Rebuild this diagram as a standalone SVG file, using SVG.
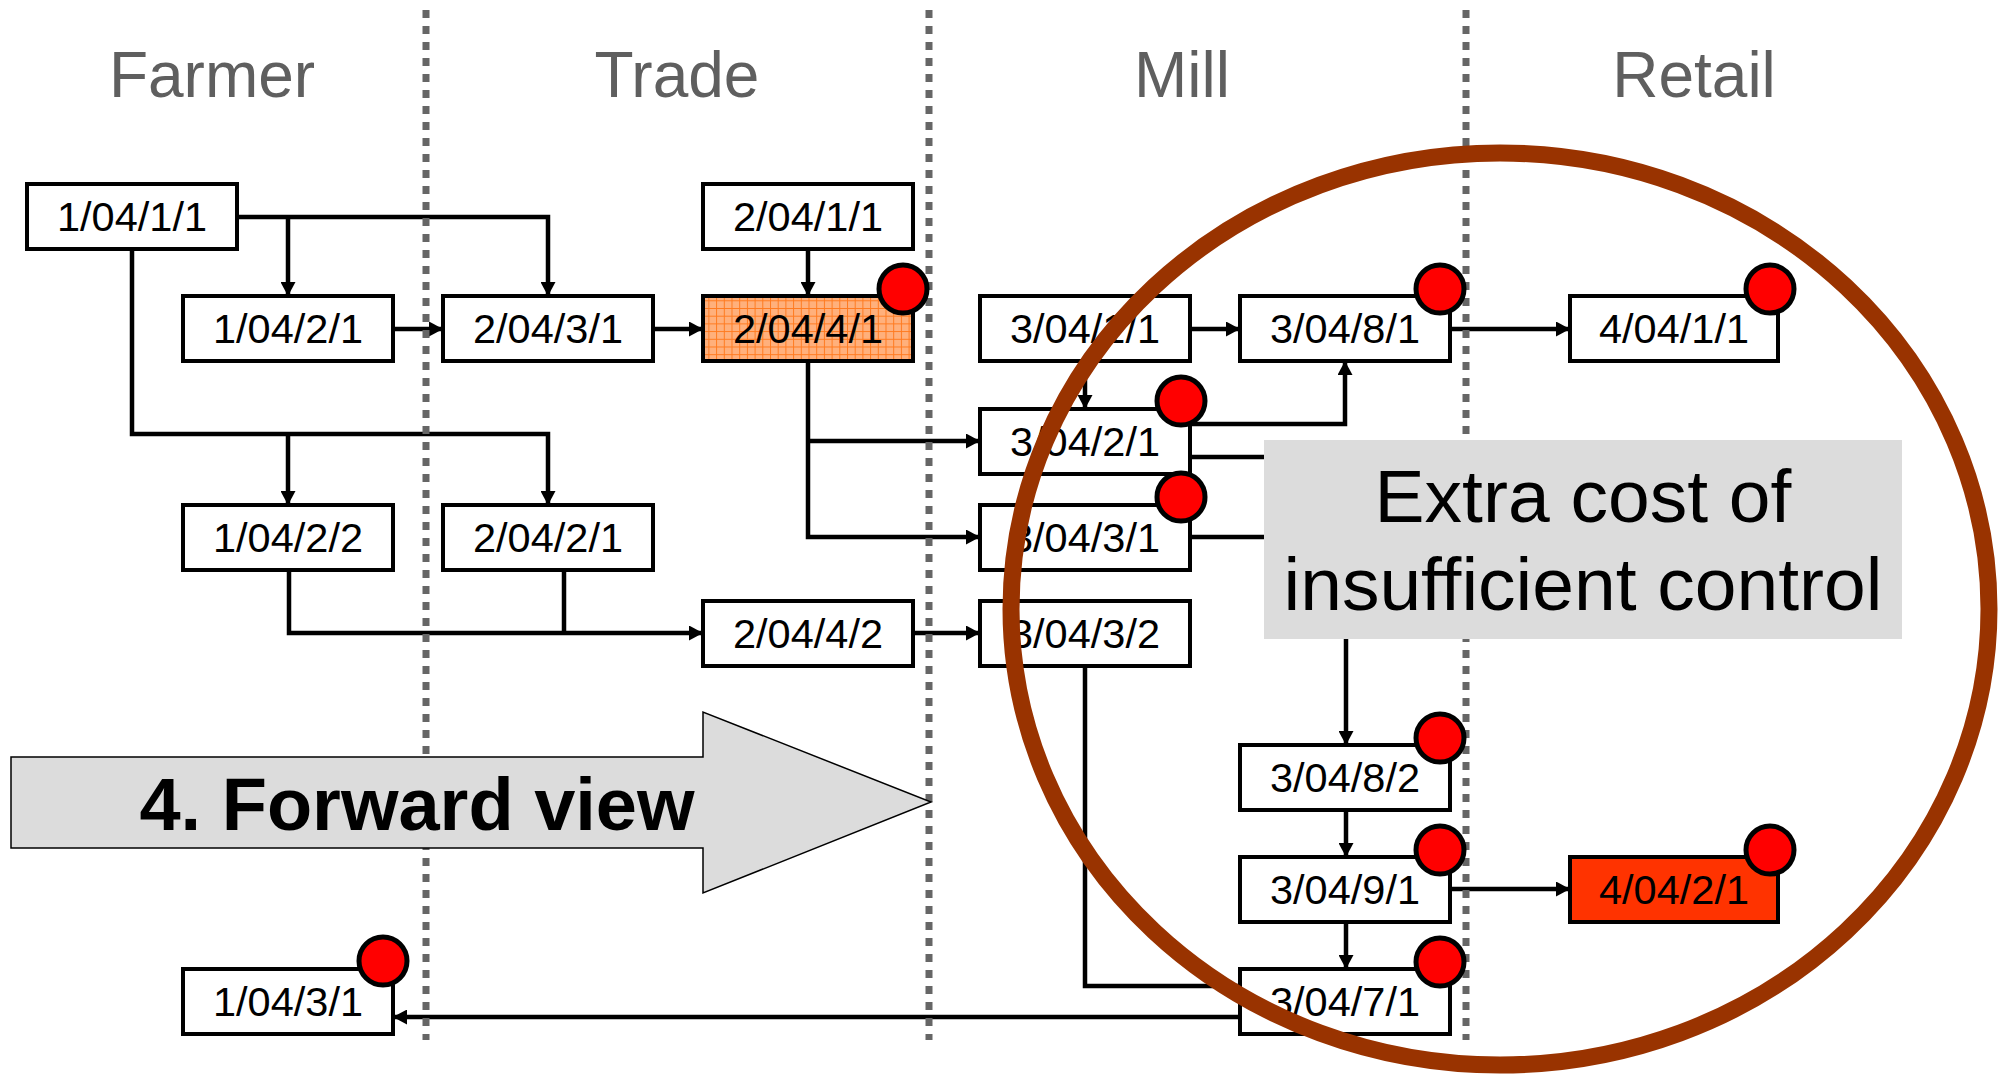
<svg xmlns="http://www.w3.org/2000/svg" width="2006" height="1074" viewBox="0 0 2006 1074">
<style>
.hdr{font-family:"Liberation Sans",Arial,sans-serif;font-size:64px;fill:#5f5f5f;text-anchor:middle}
.box{fill:#ffffff;stroke:#000;stroke-width:4}
.lbl{font-family:"Liberation Sans",Arial,sans-serif;font-size:41.5px;fill:#000;text-anchor:middle}
.con{fill:none;stroke:#000;stroke-width:4.5}
.arr{marker-end:url(#ah)}
.dash{stroke:#666;stroke-width:7;stroke-dasharray:8 8}
.dot{fill:#ff0000;stroke:#000;stroke-width:5}
.big{font-family:"Liberation Sans",Arial,sans-serif;font-size:75px;fill:#000;text-anchor:middle}
</style>
<defs>
<marker id="ah" markerUnits="userSpaceOnUse" markerWidth="15" markerHeight="15" refX="14" refY="7.5" orient="auto">
<path d="M0,0 L14,7.5 L0,15 Z" fill="#000"/>
</marker>
<pattern id="grid" patternUnits="userSpaceOnUse" width="7.7" height="7.7">
<rect width="7.7" height="7.7" fill="#ffb07c"/>
<path d="M0,0.5 H7.7 M0.5,0 V7.7" stroke="#ff7a1f" stroke-width="1"/>
</pattern>
</defs>
<rect width="2006" height="1074" fill="#fff"/>

<g id="headers">
<text class="hdr" x="212" y="97">Farmer</text>
<text class="hdr" x="677" y="97">Trade</text>
<text class="hdr" x="1182" y="97">Mill</text>
<text class="hdr" x="1694" y="97">Retail</text>
</g>

<g id="connectors">
<path class="con arr" d="M237,217 H548 V296"/>
<path class="con arr" d="M288,217 V296"/>
<path class="con arr" d="M132,249 V434 H548 V505"/>
<path class="con arr" d="M288,434 V505"/>
<path class="con arr" d="M393,329 H443"/>
<path class="con arr" d="M653,329 H703"/>
<path class="con arr" d="M808,249 V296"/>
<path class="con arr" d="M808,361 V537 H980"/>
<path class="con arr" d="M808,441 H980"/>
<path class="con arr" d="M1190,329 H1240"/>
<path class="con arr" d="M1085,361 V409"/>
<path class="con arr" d="M1450,329 H1570"/>
<path class="con arr" d="M1190,424 H1345 V361"/>
<path class="con arr" d="M1190,457 H1346 V745"/>
<path class="con" d="M1190,537 H1346"/>
<path class="con arr" d="M289,570 V633 H703"/>
<path class="con" d="M564,570 V633"/>
<path class="con arr" d="M912,633 H980"/>
<path class="con arr" d="M1346,810 V857"/>
<path class="con arr" d="M1346,922 V969"/>
<path class="con arr" d="M1450,889 H1570"/>
<path class="con arr" d="M1085,666 V986 H1240"/>
<path class="con arr" d="M1240,1017 H393"/>
</g>

<g id="lanes">
<line class="dash" x1="426" y1="10" x2="426" y2="1040"/>
<line class="dash" x1="929" y1="10" x2="929" y2="1040"/>
<line class="dash" x1="1466" y1="10" x2="1466" y2="1040"/>
</g>

<g id="forward-arrow">
<path d="M11,757 H703 V712 L931,802 L703,893 V848 H11 Z" fill="#dcdcdc" stroke="#000" stroke-width="1.5"/>
<text x="417" y="830" font-family="Liberation Sans, Arial, sans-serif" font-size="74" font-weight="bold" text-anchor="middle">4. Forward view</text>
</g>

<g id="n-1-04-1-1"><rect class="box" x="27" y="184" width="210" height="65"/><text class="lbl" x="132" y="231">1/04/1/1</text></g>
<g id="n-1-04-2-1"><rect class="box" x="183" y="296" width="210" height="65"/><text class="lbl" x="288" y="343">1/04/2/1</text></g>
<g id="n-2-04-3-1"><rect class="box" x="443" y="296" width="210" height="65"/><text class="lbl" x="548" y="343">2/04/3/1</text></g>
<g id="n-2-04-1-1"><rect class="box" x="703" y="184" width="210" height="65"/><text class="lbl" x="808" y="231">2/04/1/1</text></g>
<g id="n-2-04-4-1"><rect class="box" x="703" y="296" width="210" height="65" style="fill:url(#grid)"/><text class="lbl" x="808" y="343">2/04/4/1</text></g>
<g id="n-3-04-1-1"><rect class="box" x="980" y="296" width="210" height="65"/><text class="lbl" x="1085" y="343">3/04/1/1</text></g>
<g id="n-3-04-8-1"><rect class="box" x="1240" y="296" width="210" height="65"/><text class="lbl" x="1345" y="343">3/04/8/1</text></g>
<g id="n-4-04-1-1"><rect class="box" x="1570" y="296" width="208" height="65"/><text class="lbl" x="1674" y="343">4/04/1/1</text></g>
<g id="n-3-04-2-1"><rect class="box" x="980" y="409" width="210" height="65"/><text class="lbl" x="1085" y="456">3/04/2/1</text></g>
<g id="n-3-04-3-1"><rect class="box" x="980" y="505" width="210" height="65"/><text class="lbl" x="1085" y="552">3/04/3/1</text></g>
<g id="n-1-04-2-2"><rect class="box" x="183" y="505" width="210" height="65"/><text class="lbl" x="288" y="552">1/04/2/2</text></g>
<g id="n-2-04-2-1"><rect class="box" x="443" y="505" width="210" height="65"/><text class="lbl" x="548" y="552">2/04/2/1</text></g>
<g id="n-2-04-4-2"><rect class="box" x="703" y="601" width="210" height="65"/><text class="lbl" x="808" y="648">2/04/4/2</text></g>
<g id="n-3-04-3-2"><rect class="box" x="980" y="601" width="210" height="65"/><text class="lbl" x="1085" y="648">3/04/3/2</text></g>
<g id="n-3-04-8-2"><rect class="box" x="1240" y="745" width="210" height="65"/><text class="lbl" x="1345" y="792">3/04/8/2</text></g>
<g id="n-3-04-9-1"><rect class="box" x="1240" y="857" width="210" height="65"/><text class="lbl" x="1345" y="904">3/04/9/1</text></g>
<g id="n-4-04-2-1"><rect class="box" x="1570" y="857" width="208" height="65" style="fill:#ff3300"/><text class="lbl" x="1674" y="904">4/04/2/1</text></g>
<g id="n-3-04-7-1"><rect class="box" x="1240" y="969" width="210" height="65"/><text class="lbl" x="1345" y="1016">3/04/7/1</text></g>
<g id="n-1-04-3-1"><rect class="box" x="183" y="969" width="210" height="65"/><text class="lbl" x="288" y="1016">1/04/3/1</text></g>

<g id="callout">
<rect x="1264" y="440" width="638" height="199" fill="#dcdcdc"/>
<text class="big" x="1583" y="522">Extra cost of</text>
<text class="big" x="1583" y="610">insufficient control</text>
</g>

<g id="flags">
<circle class="dot" cx="903" cy="289" r="24"/>
<circle class="dot" cx="1440" cy="289" r="24"/>
<circle class="dot" cx="1770" cy="289" r="24"/>
<circle class="dot" cx="1181" cy="401" r="24"/>
<circle class="dot" cx="1181" cy="497" r="24"/>
<circle class="dot" cx="1440" cy="738" r="24"/>
<circle class="dot" cx="1440" cy="850" r="24"/>
<circle class="dot" cx="1770" cy="850" r="24"/>
<circle class="dot" cx="1440" cy="962" r="24"/>
<circle class="dot" cx="383" cy="961" r="24"/>
</g>

<g id="ring">
<ellipse cx="1500" cy="609" rx="489" ry="456" fill="none" stroke="#993300" stroke-width="17"/>
</g>
</svg>
